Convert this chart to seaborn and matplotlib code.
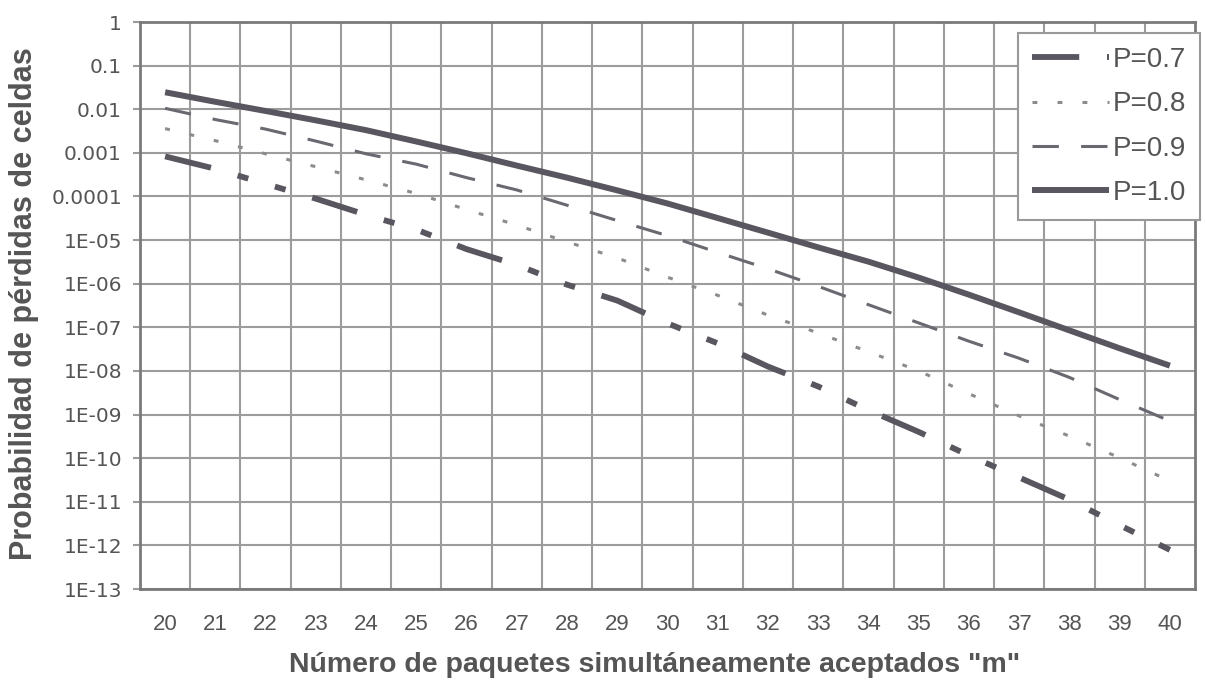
import numpy as np
import pandas as pd
import matplotlib
matplotlib.use("Agg")
import matplotlib.pyplot as plt
import seaborn as sns

# ---- data ----
m_values = list(range(20, 41))

p07 = [8.3e-4, 4.3e-4, 1.95e-4, 8.9e-5, 3.8e-5, 1.74e-5, 6.2e-6, 2.7e-6, 9.5e-7, 4.1e-7,
       1.23e-7, 4.3e-8, 1.26e-8, 4.4e-9, 1.26e-9, 4.0e-10, 1.15e-10, 3.6e-11, 1.12e-11, 2.9e-12, 7.9e-13]
p08 = [3.6e-3, 1.9e-3, 9.5e-4, 4.8e-4, 2.4e-4, 1.17e-4, 5.0e-5, 2.2e-5, 9.1e-6, 3.9e-6,
       1.41e-6, 5.4e-7, 1.9e-7, 7.4e-8, 2.75e-8, 1.0e-8, 3.0e-9, 9.3e-10, 3.2e-10, 1.02e-10, 3.0e-11]
p09 = [1.05e-2, 5.8e-3, 3.5e-3, 1.86e-3, 9.5e-4, 5.5e-4, 2.7e-4, 1.41e-4, 6.3e-5, 2.8e-5,
       1.26e-5, 5.2e-6, 2.2e-6, 8.7e-7, 3.3e-7, 1.26e-7, 4.8e-8, 1.95e-8, 7.1e-9, 2.2e-9, 7.1e-10]
p10 = [2.45e-2, 1.48e-2, 9.12e-3, 5.56e-3, 3.31e-3, 1.82e-3, 9.8e-4, 5.1e-4, 2.7e-4, 1.38e-4,
       6.9e-5, 3.2e-5, 1.48e-5, 6.8e-6, 3.2e-6, 1.38e-6, 5.6e-7, 2.2e-7, 8.5e-8, 3.3e-8, 1.32e-8]

series_labels = ["P=0.7", "P=0.8", "P=0.9", "P=1.0"]

y_tick_values = [1e-13, 1e-12, 1e-11, 1e-10, 1e-09, 1e-08, 1e-07, 1e-06, 1e-05,
                 1e-04, 1e-03, 1e-02, 1e-01, 1]
y_tick_labels = ["1E-13", "1E-12", "1E-11", "1E-10", "1E-09", "1E-08", "1E-07", "1E-06",
                 "1E-05", "0.0001", "0.001", "0.01", "0.1", "1"]

x_title = 'Número de paquetes simultáneamente aceptados "m"'
y_title = "Probabilidad de pérdidas de celdas"

# ---- style ----
sns.set_theme(style="white")
plt.rcParams["font.family"] = ["Liberation Sans", "DejaVu Sans"]
plt.rcParams["lines.scale_dashes"] = False
plt.rcParams["lines.solid_capstyle"] = "butt"
plt.rcParams["lines.dash_capstyle"] = "butt"

text_col = "#555555"
grid_col = "#9c9c9c"

fig = plt.figure(figsize=(12.05, 6.82), dpi=100)
ax = fig.add_axes([140 / 1205, (682 - 589) / 682, (1195 - 140) / 1205, (589 - 22) / 682])

df = pd.DataFrame({
    "m": m_values * 4,
    "prob": p07 + p08 + p09 + p10,
    "serie": sum([[s] * len(m_values) for s in series_labels], []),
})

styles = {
    "P=0.7": dict(color="#5a5660", lw=4.2, ls=(0, (34, 20, 8, 20, 8, 20))),
    "P=0.8": dict(color="#8c8c8c", lw=2.2, ls=(0, (3.5, 14.5))),
    "P=0.9": dict(color="#6a6870", lw=2.2, ls=(0, (19, 16))),
    "P=1.0": dict(color="#5a5660", lw=4.3, ls="-"),
}

for s in series_labels:
    st = styles[s]
    sns.lineplot(data=df[df["serie"] == s], x="m", y="prob", ax=ax, color=st["color"],
                 linewidth=st["lw"], linestyle=st["ls"], label=s, legend=False)

ax.set_yscale("log")
ax.set_ylim(1e-13, 1)
ax.set_xlim(19.5, 40.5)

ax.set_yticks(y_tick_values)
ax.set_yticklabels(y_tick_labels)
ax.yaxis.set_minor_locator(matplotlib.ticker.NullLocator())
ax.set_xticks(m_values)
ax.set_xticklabels([str(v) for v in m_values])
ax.set_xticks([v + 0.5 for v in m_values[:-1]], minor=True)

ax.grid(True, which="major", axis="y", color=grid_col, lw=1.5)
ax.grid(True, which="minor", axis="x", color=grid_col, lw=1.5)
ax.grid(False, which="major", axis="x")
ax.set_axisbelow(True)

for sp in ax.spines.values():
    sp.set_color("#7a7a7a")
    sp.set_linewidth(2)

ax.tick_params(axis="y", which="major", length=5, width=1.5, color=grid_col, pad=8,
               labelsize=14.5, labelcolor=text_col, left=True)
ax.tick_params(axis="x", which="major", length=0, pad=18, labelsize=16, labelcolor=text_col)
ax.tick_params(axis="x", which="minor", length=0)
for t in ax.get_yticklabels():
    t.set_family("DejaVu Sans")

ax.set_xlabel(x_title, fontsize=20.5, fontweight="bold", color=text_col, va="center")
ax.xaxis.set_label_coords(0.488, -0.134)
ax.set_ylabel(y_title, fontsize=22, fontweight="bold", color=text_col, va="center")
ax.yaxis.set_label_coords(-0.11, 0.504)

handles = ax.get_lines()[:4]
leg = ax.legend(handles, series_labels, loc="upper right",
                bbox_to_anchor=(1200 / 1205, 1 - 33 / 682), bbox_transform=fig.transFigure,
                frameon=True, fancybox=False, framealpha=1, edgecolor="#999999",
                fontsize=20, handlelength=2.75, handletextpad=0.15, labelspacing=0.66,
                borderpad=0.5, borderaxespad=0)
leg.get_frame().set_linewidth(1.5)
for t in leg.get_texts():
    t.set_color(text_col)

fig.savefig("out.png", dpi=100, facecolor="white")
